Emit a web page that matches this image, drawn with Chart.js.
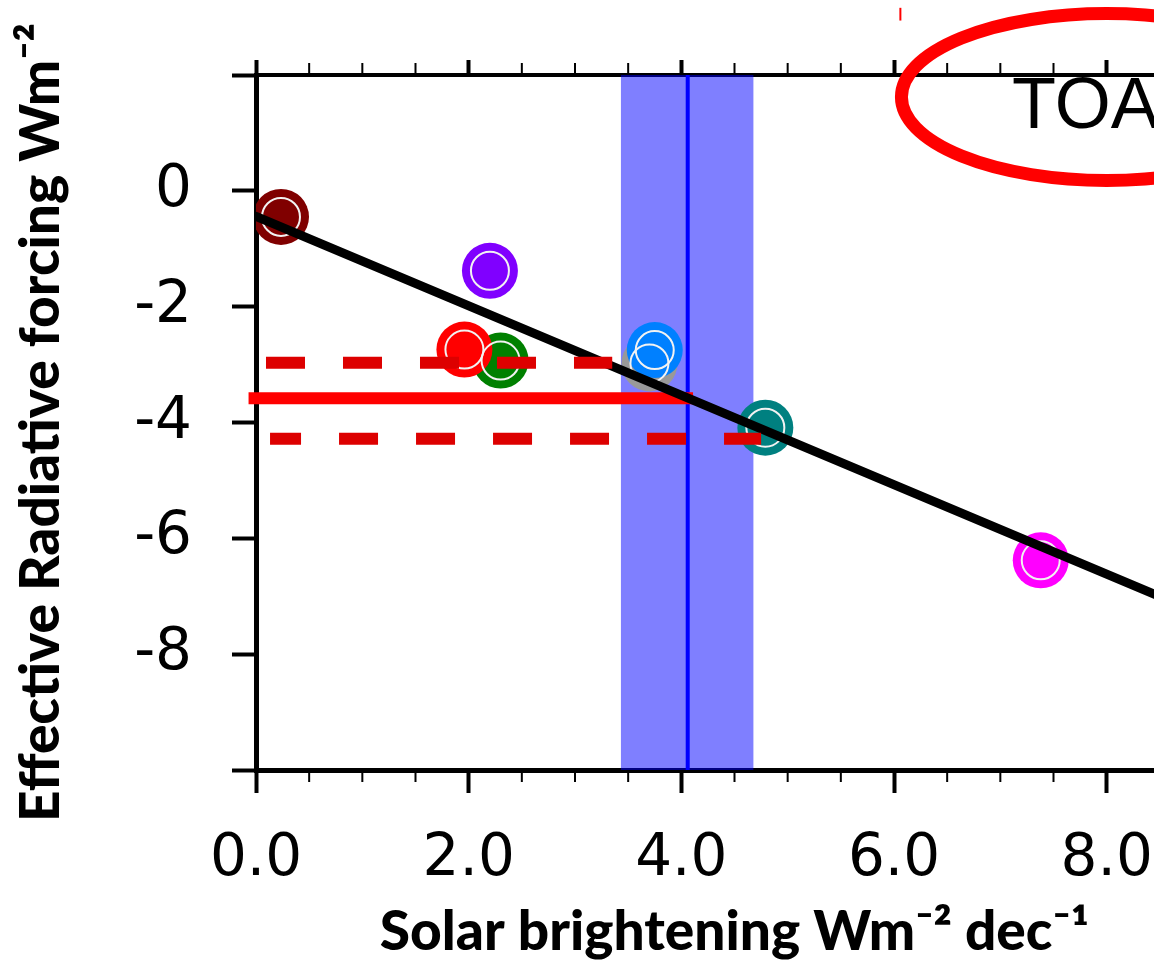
<!DOCTYPE html>
<html>
<head>
<meta charset="utf-8">
<script src="https://cdn.jsdelivr.net/npm/chart.js@4/dist/chart.umd.min.js"></script>
<style>
  html, body { margin: 0; padding: 0; background: #fff; overflow: hidden; }
  #wrap { width: 1300px; height: 979px; }
</style>
</head>
<body>
<div id="wrap"><canvas id="grafico" width="1300" height="979"></canvas></div>
<script>
// puntos de los modelos (brillo solar vs forzamiento)
const puntosX = [0.235, 2.20, 2.30, 1.96, 3.70, 3.75, 4.79, 7.38];
const puntosY = [-0.45, -1.38, -2.93, -2.74, -2.98, -2.75, -4.09, -6.38];
const coloresPuntos = ["#800000", "#8000ff", "#008000", "#ff0000", "#999999", "#0080ff", "#008080", "#ff00ff"];

// recta de regresion (extremos)
const ajusteX = [0, 9];
const ajusteY = [-0.44, -7.39];

// observacion (azul) y su rango
const obsX = 4.06;
const obsRango = [3.43, 4.68];

// forzamiento estimado (rojo) y su rango
const erfY = -3.58;
const erfX = [-0.07, 4.11];
const erfAltoY = -2.97;
const erfAltoX = [0.094, 3.35];
const erfBajoY = -4.28;
const erfBajoX = [0.132, 4.75];

// ejes
const xRango = [0, 9];
const yRango = [-10, 2];

// anotaciones (TOA + elipse roja)
const etiquetaTOA = { texto: "TOA", x: 7.11, y: 1.08 };
const elipse = { x: 8.0, y: 1.62, rx: 1.93, ry: 1.44 };
const marquita = { x: 6.06, y: [2.94, 3.16] };

const fuenteNum = "'DejaVu Sans', Arial, sans-serif";
const fuenteTOA = "'Liberation Sans', Arial, sans-serif";
const fuenteTitulo = "Lato, 'DejaVu Sans', sans-serif";

const marcas = {
  id: "marcas",
  beforeDatasetsDraw(chart) {
    const { ctx, chartArea, scales: { x } } = chart;
    ctx.save();
    ctx.strokeStyle = "#000";
    ctx.lineWidth = 2;
    for (let v = xRango[0] + 0.5; v < xRango[1]; v += 0.5) {
      if (v % 2 === 0) continue;
      const px = x.getPixelForValue(v);
      ctx.beginPath();
      ctx.moveTo(px, chartArea.bottom);
      ctx.lineTo(px, chartArea.bottom + 12);
      ctx.moveTo(px, chartArea.top);
      ctx.lineTo(px, chartArea.top - 12);
      ctx.stroke();
    }
    ctx.restore();
  },
  afterDraw(chart) {
    const { ctx, scales: { x, y } } = chart;
    ctx.save();
    ctx.fillStyle = "#000";
    ctx.font = "72px " + fuenteTOA;
    ctx.textBaseline = "alphabetic";
    ctx.fillText(etiquetaTOA.texto, x.getPixelForValue(etiquetaTOA.x), y.getPixelForValue(etiquetaTOA.y));

    const cx = x.getPixelForValue(elipse.x);
    const cy = y.getPixelForValue(elipse.y);
    const rx = x.getPixelForValue(elipse.x + elipse.rx) - cx;
    const ry = cy - y.getPixelForValue(elipse.y + elipse.ry);
    ctx.strokeStyle = "#ff0000";
    ctx.lineWidth = 13;
    ctx.beginPath();
    ctx.ellipse(cx, cy, rx, ry, 0, 0, Math.PI * 2);
    ctx.stroke();

    ctx.lineWidth = 2;
    ctx.beginPath();
    ctx.moveTo(x.getPixelForValue(marquita.x), y.getPixelForValue(marquita.y[0]));
    ctx.lineTo(x.getPixelForValue(marquita.x), y.getPixelForValue(marquita.y[1]));
    ctx.stroke();
    ctx.restore();
  },
};

function linea(xs, yv) {
  return xs.map((v) => ({ x: v, y: yv }));
}

const puntos = puntosX.map((v, i) => ({ x: v, y: puntosY[i] }));

const ctx = document.getElementById("grafico").getContext("2d");
new Chart(ctx, {
  type: "scatter",
  data: {
    datasets: [
      {
        // banda de incertidumbre
        type: "line",
        data: linea(obsRango, yRango[1]),
        fill: { value: yRango[0] },
        backgroundColor: "rgba(0,0,255,0.5)",
        borderWidth: 0,
        pointRadius: 0,
        order: 20,
      },
      {
        type: "line",
        data: [{ x: obsX, y: yRango[0] }, { x: obsX, y: yRango[1] }],
        borderColor: "#0000ff",
        borderWidth: 4,
        pointRadius: 0,
        order: 19,
      },
      {
        data: puntos,
        pointRadius: 28,
        pointBackgroundColor: coloresPuntos,
        pointBorderWidth: 0,
        order: 18,
      },
      {
        data: puntos,
        pointRadius: 19,
        pointBackgroundColor: "rgba(0,0,0,0)",
        pointBorderColor: "#f2f2f2",
        pointBorderWidth: 2,
        order: 17,
      },
      {
        type: "line",
        data: linea(erfX, erfY),
        borderColor: "#ff0000",
        borderWidth: 12,
        pointRadius: 0,
        clip: false,
        order: 15,
      },
      {
        type: "line",
        data: ajusteX.map((v, i) => ({ x: v, y: ajusteY[i] })),
        borderColor: "#000",
        borderWidth: 9,
        borderCapStyle: "round",
        pointRadius: 0,
        order: 14,
      },
      {
        type: "line",
        data: linea(erfAltoX, erfAltoY),
        borderColor: "#dd0000",
        borderWidth: 12,
        borderDash: [39, 38],
        pointRadius: 0,
        order: 13,
      },
      {
        type: "line",
        data: linea(erfBajoX, erfBajoY),
        borderColor: "#dd0000",
        borderWidth: 12,
        borderDash: [39, 38],
        borderDashOffset: 8,
        pointRadius: 0,
        order: 12,
      },
    ],
  },
  options: {
    responsive: false,
    devicePixelRatio: 1,
    animation: false,
    events: [],
    layout: { padding: { left: 0, top: 0, right: 87, bottom: 0 } },
    plugins: { legend: { display: false }, tooltip: { enabled: false } },
    scales: {
      x: {
        type: "linear",
        position: "bottom",
        min: xRango[0],
        max: xRango[1],
        afterFit: (s) => { s.height = 209; },
        ticks: {
          stepSize: 2,
          includeBounds: false,
          autoSkip: false,
          maxRotation: 0,
          color: "#000",
          padding: 32,
          font: { family: fuenteNum, size: 58 },
          callback: (v) => v.toFixed(1),
        },
        grid: { drawOnChartArea: false, drawTicks: true, tickLength: 23, tickWidth: 4, tickColor: "#000" },
        border: { display: true, color: "#000", width: 5 },
        title: {
          display: true,
          text: "Solar brightening Wm⁻² dec⁻¹",
          color: "#000",
          font: { family: fuenteTitulo, weight: "900", size: 55 },
          padding: { top: 0, bottom: 14 },
        },
      },
      x2: {
        type: "linear",
        axis: "x",
        position: "top",
        min: xRango[0],
        max: xRango[1],
        afterFit: (s) => { s.height = 75; },
        ticks: { stepSize: 2, includeBounds: false, display: false },
        grid: { drawOnChartArea: false, drawTicks: true, tickLength: 15, tickWidth: 4, tickColor: "#000" },
        border: { display: true, color: "#000", width: 4 },
      },
      y: {
        type: "linear",
        position: "left",
        min: yRango[0],
        max: yRango[1],
        afterFit: (s) => { s.width = 256; },
        ticks: {
          stepSize: 2,
          color: "#000",
          padding: 40,
          font: { family: fuenteNum, size: 58 },
          callback: (v) => (v === yRango[0] || v === yRango[1] ? "" : String(v)),
        },
        grid: { drawOnChartArea: false, drawTicks: true, tickLength: 24, tickWidth: 4, tickColor: "#000" },
        border: { display: true, color: "#000", width: 5 },
        title: {
          display: true,
          text: "Effective Radiative forcing Wm⁻²",
          color: "#000",
          font: { family: fuenteTitulo, weight: "900", size: 55 },
          padding: { top: 8, bottom: 0 },
        },
      },
    },
  },
  plugins: [marcas],
});
</script>
</body>
</html>
